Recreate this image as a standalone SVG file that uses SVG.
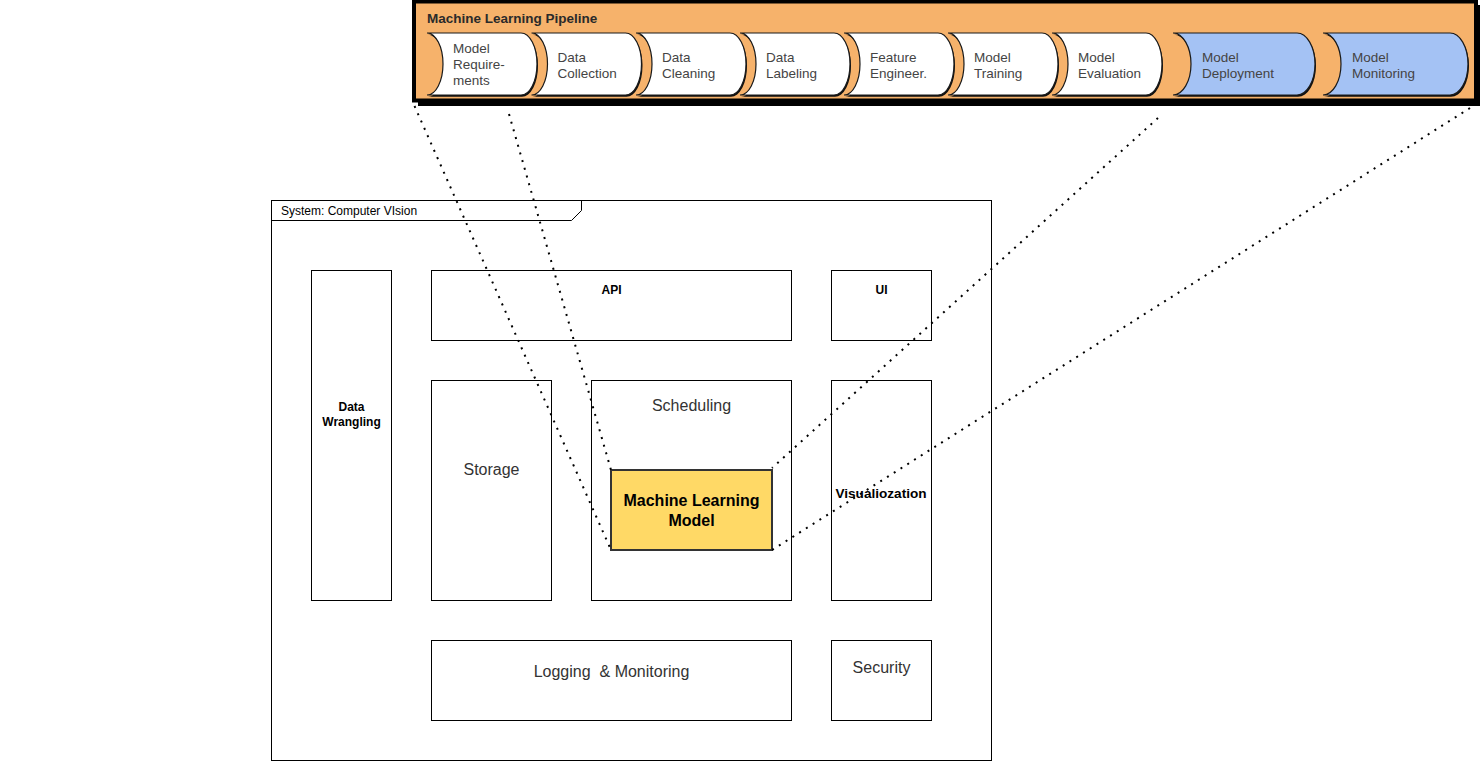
<svg xmlns="http://www.w3.org/2000/svg" width="1482" height="762" viewBox="0 0 1482 762">
<defs>
<style>
text{font-family:"Liberation Sans",Arial,Helvetica,sans-serif;}
.box{fill:#fff;stroke:#000;stroke-width:1;}
.chev{stroke:#1a1a1a;stroke-width:1.2;}
.shadow{fill:#111;}
.ct{font-size:13.5px;fill:#444;}
.lbl{fill:#000;font-weight:bold;font-size:12px;text-anchor:middle;}
.big{fill:#333;font-size:16px;text-anchor:middle;}
.conn{fill:none;stroke:#000;stroke-width:2;stroke-dasharray:2 6;}
</style>
</defs>

<g id="pipeline">
  <rect x="418" y="5" width="1062" height="101" fill="#000"/>
  <rect x="414" y="1.5" width="1062" height="99" fill="#F6B26B" stroke="#000" stroke-width="4"/>
  <text x="427" y="23" font-size="13.5" font-weight="bold" fill="#2a2a2a">Machine Learning Pipeline</text>

  <g id="step-requirements">
    <path class="shadow" transform="translate(1,1.8)" d="M427,33 H521 A16 31 0 0 1 521,95 H427 A16 31 0 0 0 427,33 Z"/>
    <path class="chev" fill="#fff" d="M427,33 H521 A16 31 0 0 1 521,95 H427 A16 31 0 0 0 427,33 Z"/>
    <text class="ct" x="453" y="53">Model</text>
    <text class="ct" x="453" y="69">Require-</text>
    <text class="ct" x="453" y="85">ments</text>
  </g>
  <g id="step-collection">
    <path class="shadow" transform="translate(1,1.8)" d="M531.5,33 H625.5 A16 31 0 0 1 625.5,95 H531.5 A16 31 0 0 0 531.5,33 Z"/>
    <path class="chev" fill="#fff" d="M531.5,33 H625.5 A16 31 0 0 1 625.5,95 H531.5 A16 31 0 0 0 531.5,33 Z"/>
    <text class="ct" x="557.5" y="62">Data</text>
    <text class="ct" x="557.5" y="78">Collection</text>
  </g>
  <g id="step-cleaning">
    <path class="shadow" transform="translate(1,1.8)" d="M636,33 H730 A16 31 0 0 1 730,95 H636 A16 31 0 0 0 636,33 Z"/>
    <path class="chev" fill="#fff" d="M636,33 H730 A16 31 0 0 1 730,95 H636 A16 31 0 0 0 636,33 Z"/>
    <text class="ct" x="662" y="62">Data</text>
    <text class="ct" x="662" y="78">Cleaning</text>
  </g>
  <g id="step-labeling">
    <path class="shadow" transform="translate(1,1.8)" d="M740,33 H834 A16 31 0 0 1 834,95 H740 A16 31 0 0 0 740,33 Z"/>
    <path class="chev" fill="#fff" d="M740,33 H834 A16 31 0 0 1 834,95 H740 A16 31 0 0 0 740,33 Z"/>
    <text class="ct" x="766" y="62">Data</text>
    <text class="ct" x="766" y="78">Labeling</text>
  </g>
  <g id="step-feature">
    <path class="shadow" transform="translate(1,1.8)" d="M844,33 H938 A16 31 0 0 1 938,95 H844 A16 31 0 0 0 844,33 Z"/>
    <path class="chev" fill="#fff" d="M844,33 H938 A16 31 0 0 1 938,95 H844 A16 31 0 0 0 844,33 Z"/>
    <text class="ct" x="870" y="62">Feature</text>
    <text class="ct" x="870" y="78">Engineer.</text>
  </g>
  <g id="step-training">
    <path class="shadow" transform="translate(1,1.8)" d="M948,33 H1042 A16 31 0 0 1 1042,95 H948 A16 31 0 0 0 948,33 Z"/>
    <path class="chev" fill="#fff" d="M948,33 H1042 A16 31 0 0 1 1042,95 H948 A16 31 0 0 0 948,33 Z"/>
    <text class="ct" x="974" y="62">Model</text>
    <text class="ct" x="974" y="78">Training</text>
  </g>
  <g id="step-evaluation">
    <path class="shadow" transform="translate(1,1.8)" d="M1052,33 H1146 A16 31 0 0 1 1146,95 H1052 A16 31 0 0 0 1052,33 Z"/>
    <path class="chev" fill="#fff" d="M1052,33 H1146 A16 31 0 0 1 1146,95 H1052 A16 31 0 0 0 1052,33 Z"/>
    <text class="ct" x="1078" y="62">Model</text>
    <text class="ct" x="1078" y="78">Evaluation</text>
  </g>
  <g id="step-deployment">
    <path class="shadow" transform="translate(1,1.8)" d="M1173,33 H1297 A18 31 0 0 1 1297,95 H1173 A18 31 0 0 0 1173,33 Z"/>
    <path class="chev" fill="#A4C2F4" d="M1173,33 H1297 A18 31 0 0 1 1297,95 H1173 A18 31 0 0 0 1173,33 Z"/>
    <text class="ct" x="1202" y="62">Model</text>
    <text class="ct" x="1202" y="78">Deployment</text>
  </g>
  <g id="step-monitoring">
    <path class="shadow" transform="translate(1,1.8)" d="M1323,33 H1450 A18 31 0 0 1 1450,95 H1323 A18 31 0 0 0 1323,33 Z"/>
    <path class="chev" fill="#A4C2F4" d="M1323,33 H1450 A18 31 0 0 1 1450,95 H1323 A18 31 0 0 0 1323,33 Z"/>
    <text class="ct" x="1352" y="62">Model</text>
    <text class="ct" x="1352" y="78">Monitoring</text>
  </g>
</g>

<g id="system-frame">
  <rect class="box" x="271.5" y="200.5" width="720" height="560"/>
  <path d="M271.5,220.5 H571.5 L581.5,210.5 V200.5" fill="none" stroke="#000" stroke-width="1"/>
  <text x="281" y="215" font-size="12" fill="#000">System: Computer VIsion</text>
</g>

<g id="data-wrangling">
  <rect class="box" x="311.5" y="270.5" width="80" height="330"/>
  <text class="lbl" x="351.5" y="411">Data</text>
  <text class="lbl" x="351.5" y="425.5">Wrangling</text>
</g>
<g id="api">
  <rect class="box" x="431.5" y="270.5" width="360" height="70"/>
  <text class="lbl" x="611.5" y="293.5">API</text>
</g>
<g id="ui">
  <rect class="box" x="831.5" y="270.5" width="100" height="70"/>
  <text class="lbl" x="881.5" y="293.5">UI</text>
</g>
<g id="storage">
  <rect class="box" x="431.5" y="380.5" width="120" height="220"/>
  <text class="big" x="491.5" y="475" font-size="15">Storage</text>
</g>
<g id="scheduling">
  <rect class="box" x="591.5" y="380.5" width="200" height="220"/>
  <text class="big" x="691.5" y="411">Scheduling</text>
</g>
<g id="ml-model">
  <rect x="611" y="470" width="161" height="80" fill="#FFD966" stroke="#333" stroke-width="2"/>
  <text x="691.5" y="506" font-size="16" font-weight="bold" fill="#000" text-anchor="middle">Machine Learning</text>
  <text x="691.5" y="526" font-size="16" font-weight="bold" fill="#000" text-anchor="middle">Model</text>
</g>
<g id="visualization">
  <rect class="box" x="831.5" y="380.5" width="100" height="220"/>
  <text x="881" y="498" font-size="13.6" font-weight="bold" fill="#000" text-anchor="middle">Visualiozation</text>
</g>
<g id="logging">
  <rect class="box" x="431.5" y="640.5" width="360" height="80"/>
  <text class="big" x="611.5" y="677" xml:space="preserve" style="white-space:pre">Logging  &amp; Monitoring</text>
</g>
<g id="security">
  <rect class="box" x="831.5" y="640.5" width="100" height="80"/>
  <text class="big" x="881.5" y="672.5" font-size="15">Security</text>
</g>

<g id="connectors">
  <line class="conn" x1="414.5" y1="106" x2="611" y2="550"/>
  <line class="conn" x1="509" y1="114" x2="611" y2="470"/>
  <line class="conn" x1="1158" y1="118" x2="772" y2="468"/>
  <line class="conn" x1="1470" y1="108" x2="772" y2="550"/>
</g>
</svg>
